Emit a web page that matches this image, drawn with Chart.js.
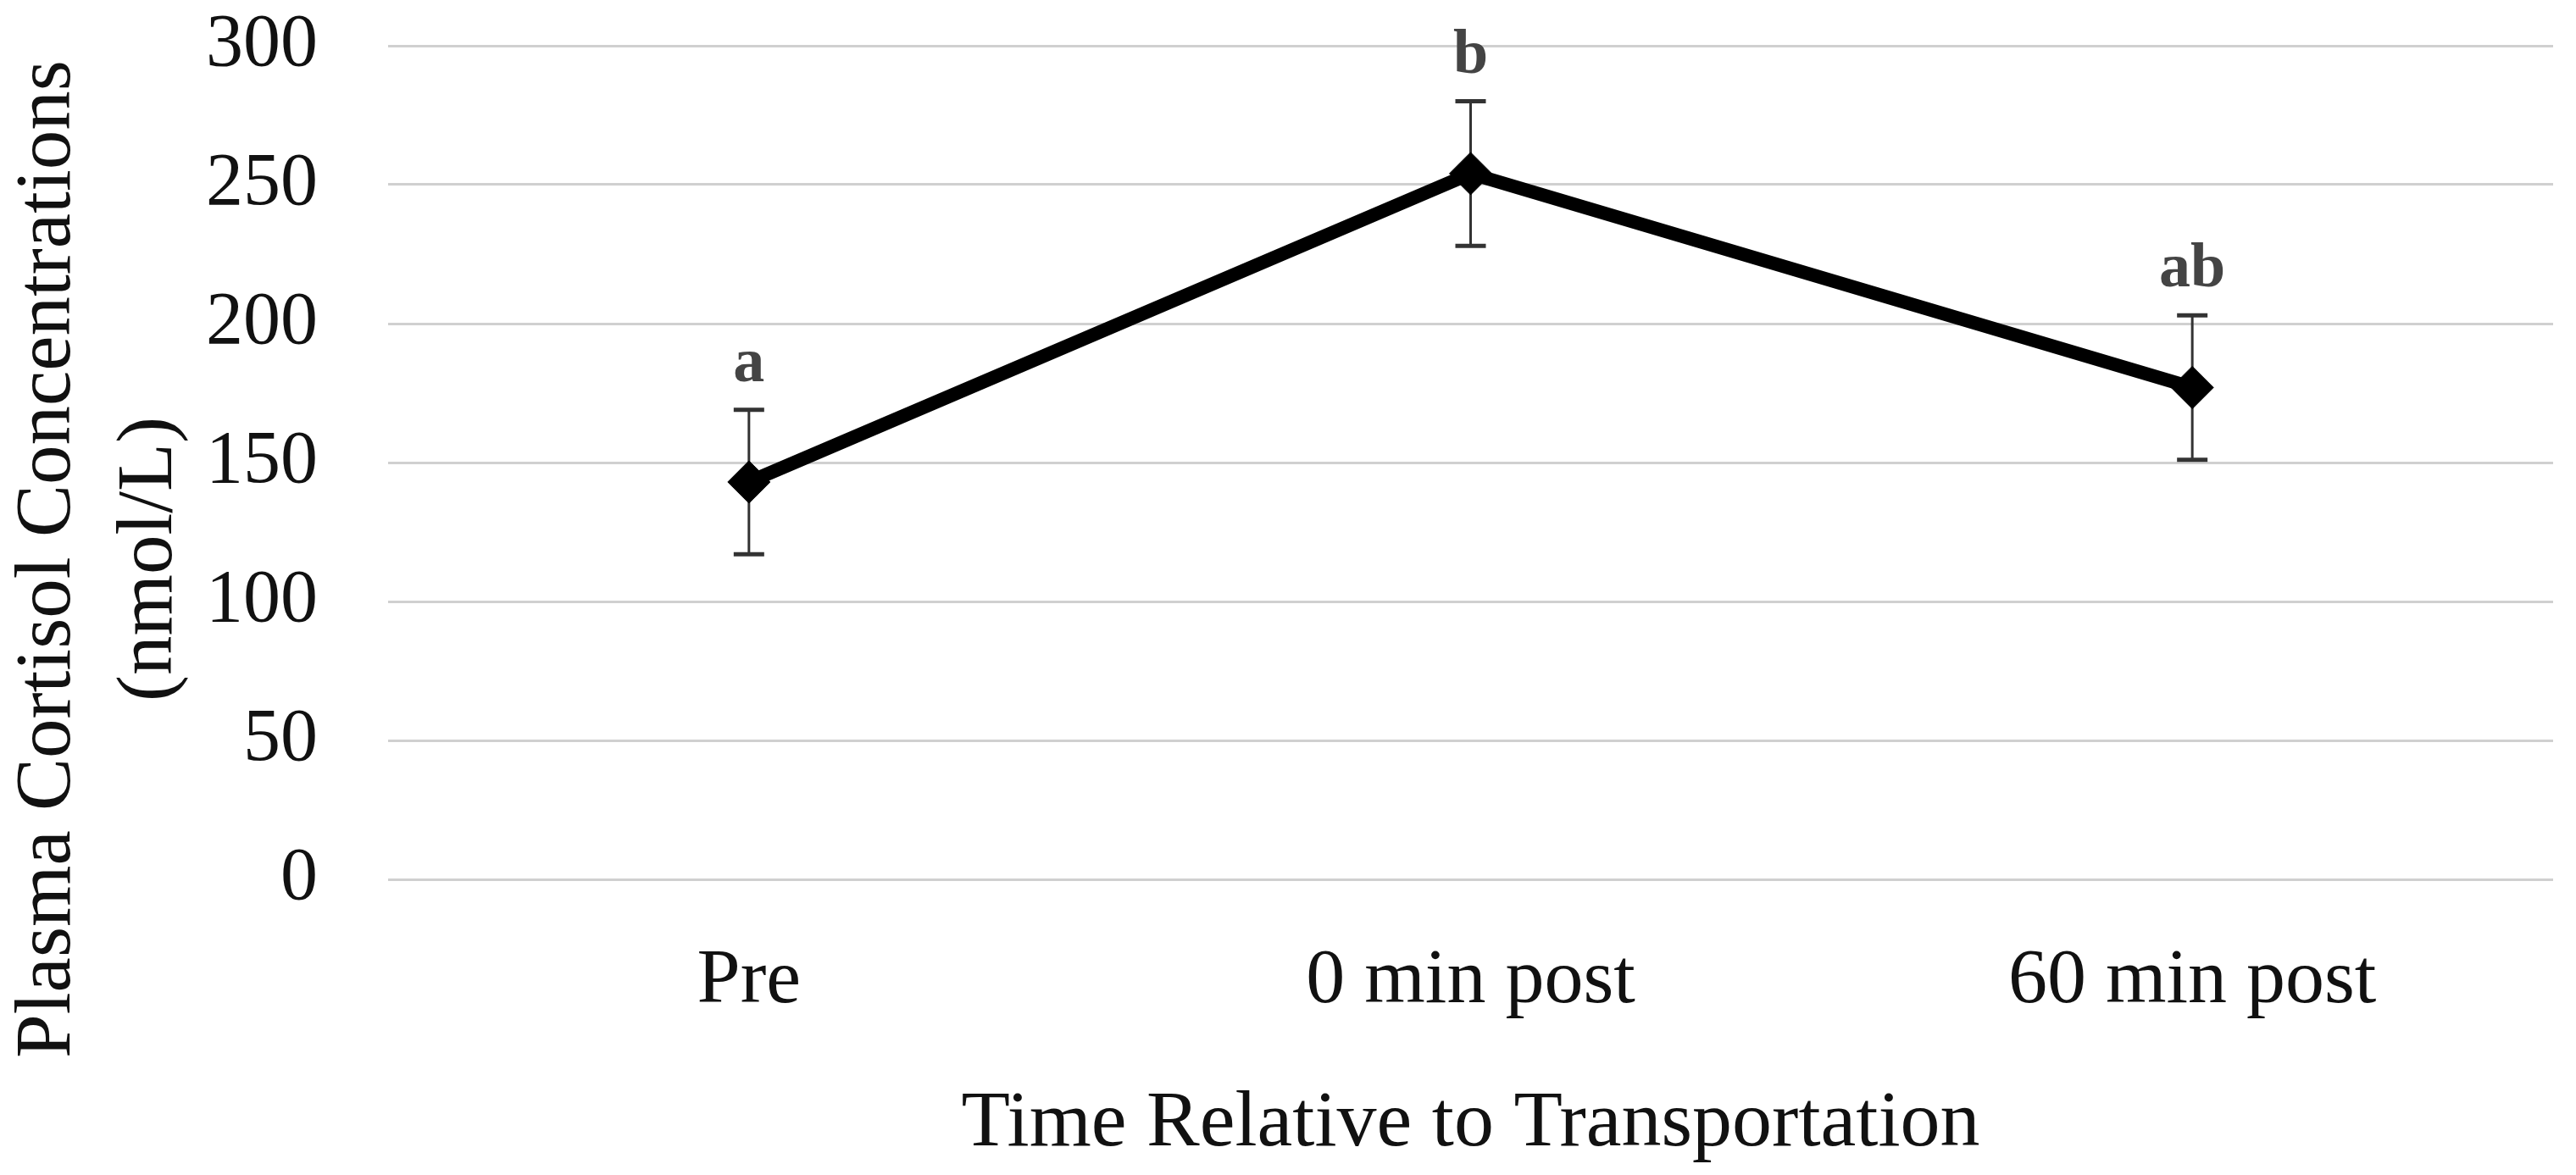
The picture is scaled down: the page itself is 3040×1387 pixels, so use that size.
<!DOCTYPE html>
<html>
<head>
<meta charset="utf-8">
<script src="https://cdn.jsdelivr.net/npm/chart.js@4.4.1/dist/chart.umd.min.js"></script>
<style>
  html, body { margin: 0; padding: 0; background: #fff; }
  #wrap { width: 3040px; height: 1387px; }
</style>
</head>
<body>
<div id="wrap"><canvas id="cortisolChart"></canvas></div>
<script>
// Données
const categories = ["Pre", "0 min post", "60 min post"];
const cortisolMeans = [143, 254, 177];
const cortisolErrors = [26, 26, 26];
const letters = ["a", "b", "ab"];
const yTicks = [0, 50, 100, 150, 200, 250, 300];

const serif = "'Liberation Serif', 'DejaVu Serif', serif";

// Barres d'erreur + lettres de significativité
const errorBars = {
  id: "errorBars",
  beforeDatasetsDraw(chart) {
    const ctx = chart.ctx;
    const x = chart.scales.x;
    const y = chart.scales.y;
    ctx.save();
    ctx.strokeStyle = "#333";
    cortisolMeans.forEach((m, i) => {
      const px = x.getPixelForValue(i);
      const top = y.getPixelForValue(m + cortisolErrors[i]);
      const bot = y.getPixelForValue(m - cortisolErrors[i]);
      ctx.lineWidth = 3;
      ctx.beginPath();
      ctx.moveTo(px, top);
      ctx.lineTo(px, bot);
      ctx.stroke();
      ctx.lineWidth = 5;
      ctx.beginPath();
      ctx.moveTo(px - 18, top);
      ctx.lineTo(px + 18, top);
      ctx.moveTo(px - 18, bot);
      ctx.lineTo(px + 18, bot);
      ctx.stroke();
    });
    ctx.restore();
  },
  afterDatasetsDraw(chart) {
    const ctx = chart.ctx;
    const x = chart.scales.x;
    const y = chart.scales.y;
    ctx.save();
    ctx.fillStyle = "#444";
    ctx.font = "bold 74px " + serif;
    ctx.textAlign = "center";
    ctx.textBaseline = "alphabetic";
    letters.forEach((l, i) => {
      const px = x.getPixelForValue(i);
      const top = y.getPixelForValue(cortisolMeans[i] + cortisolErrors[i]);
      ctx.fillText(l, px, top - 34);
    });
    ctx.restore();
  },
};

// Titre de l'axe Y sur deux lignes
const yTitle = {
  id: "yTitle",
  afterDraw(chart) {
    const ctx = chart.ctx;
    ctx.save();
    ctx.fillStyle = "#111";
    ctx.font = "93px " + serif;
    ctx.textAlign = "center";
    ctx.textBaseline = "middle";
    ctx.translate(58, 660);
    ctx.rotate(-Math.PI / 2);
    ctx.fillText("Plasma Cortisol Concentrations", 0, 0);
    ctx.fillText("(nmol/L)", 0, 120);
    ctx.restore();
  },
};

function initChart() {
  const ctx = document.getElementById("cortisolChart").getContext("2d");
  new Chart(ctx, {
    type: "line",
    data: {
      labels: categories,
      datasets: [
        {
          data: cortisolMeans,
          borderColor: "#000",
          borderWidth: 16,
          pointStyle: "rectRot",
          pointRadius: 25,
          pointBackgroundColor: "#000",
          pointBorderColor: "#000",
          pointBorderWidth: 1,
          tension: 0,
          fill: false,
        },
      ],
    },
    options: {
      responsive: true,
      maintainAspectRatio: false,
      animation: false,
      devicePixelRatio: 1,
      layout: {
        padding: { top: 54, right: 27, bottom: 0, left: 0 },
      },
      plugins: {
        legend: { display: false },
        tooltip: { enabled: false },
      },
      scales: {
        y: {
          min: 0,
          max: 300,
          afterBuildTicks(scale) {
            scale.ticks = yTicks.map((v) => ({ value: v }));
          },
          afterFit(scale) {
            scale.width = 458;
            // la marge des ticks ne doit pas pousser la zone du graphique
            scale.paddingTop = 54;
            scale.paddingBottom = 0;
          },
          ticks: {
            padding: 83,
            color: "#111",
            font: { family: serif, size: 88 },
          },
          grid: {
            color: "#d0d0d0",
            lineWidth: 3,
            drawTicks: false,
          },
          border: { display: false },
        },
        x: {
          offset: true,
          afterFit(scale) {
            scale.height = 349;
          },
          ticks: {
            padding: 66,
            color: "#111",
            font: { family: serif, size: 92 },
          },
          grid: { display: false, drawTicks: false },
          border: { display: false },
          title: {
            display: true,
            text: "Time Relative to Transportation",
            color: "#111",
            font: { family: serif, size: 94 },
            padding: { top: 0, bottom: 3 },
          },
        },
      },
    },
    plugins: [errorBars, yTitle],
  });
}

if (document.readyState === "complete") {
  initChart();
} else {
  document.addEventListener("DOMContentLoaded", initChart);
}
</script>
</body>
</html>
